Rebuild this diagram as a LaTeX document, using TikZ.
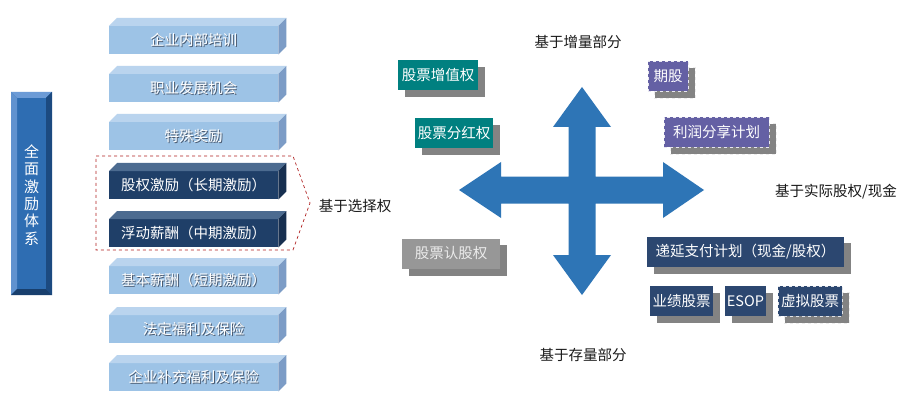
\documentclass[tikz,border=0pt]{standalone}
\usepackage{fontspec}
\newfontfamily\cjk{Noto Sans CJK SC}
\usetikzlibrary{backgrounds}
\definecolor{lightfrontc}{HTML}{9DC3E6}
\definecolor{lighttopc}{HTML}{BAD4EE}
\definecolor{lightsidec}{HTML}{7C9CC6}
\definecolor{darkfrontc}{HTML}{1F3F68}
\definecolor{darktopc}{HTML}{4C6B90}
\definecolor{darksidec}{HTML}{172F50}
\definecolor{barfront}{HTML}{2E6DB2}
\definecolor{barlight}{HTML}{6C9BD6}
\definecolor{bardark}{HTML}{1C4A80}
\definecolor{crossblue}{HTML}{2E75B6}
\definecolor{tealc}{HTML}{008080}
\definecolor{purplec}{HTML}{6460A4}
\definecolor{navyc}{HTML}{2C4770}
\definecolor{grayc}{HTML}{979797}
\definecolor{shadowc}{HTML}{838383}
\definecolor{txtsh}{HTML}{4A5A70}
\definecolor{bracketred}{HTML}{B02020}
\newcommand\shtext[1]{\rlap{\kern0.9pt\raisebox{-0.9pt}{\color{txtsh}#1}}#1}
\newcommand\cubebox[4]{%
  \node[#3front] (#1) at (109,#2) {#4};
  \fill[#3top] (#1.north west) -- ++(8,-8) -- ([shift={(8,-8)}]#1.north east) -- (#1.north east) -- cycle;
  \fill[#3side] (#1.north east) -- ++(8,-8) -- ([shift={(8,-8)}]#1.south east) -- (#1.south east) -- cycle;
}
\newcommand\tagbox[6]{% name, x-centre, y-centre, width, style, text
  \node[#5, minimum width=#4pt] (#1) at (#2,#3) {#6};
  \begin{scope}[on background layer]
    \path[#5shadow] ([shift={(7,7)}]#1.north west) rectangle ([shift={(7,7)}]#1.south east);
  \end{scope}
}
\tikzset{
  cjkfont/.style={font=\cjk\fontsize{14.5}{17}\selectfont},
  cubebase/.style={cjkfont, draw=none, text=white, minimum width=169pt, minimum height=28pt, inner sep=0pt, anchor=north west},
  lightfront/.style={cubebase, fill=lightfrontc},
  lighttop/.style={fill=lighttopc},
  lightside/.style={fill=lightsidec},
  darkfront/.style={cubebase, fill=darkfrontc},
  darktop/.style={fill=darktopc},
  darkside/.style={fill=darksidec},
  tagbase/.style={cjkfont, text=white, minimum height=30pt, inner sep=0pt},
  teal/.style={tagbase, fill=tealc},
  tealshadow/.style={fill=shadowc},
  purp/.style={tagbase, fill=purplec, draw=white!85!purplec, dashed, line width=0.8pt},
  purpshadow/.style={fill=shadowc, draw=white!85!shadowc, dashed, line width=0.8pt},
  navy/.style={tagbase, fill=navyc},
  navyshadow/.style={fill=shadowc},
  navyd/.style={tagbase, fill=navyc, draw=white!85!navyc, dashed, line width=0.8pt},
  navydshadow/.style={fill=shadowc, draw=white!85!shadowc, dashed, line width=0.8pt},
  grey/.style={tagbase, fill=grayc, text=white!92!black},
  greyshadow/.style={fill=shadowc},
  plainlabel/.style={cjkfont, text=black!90, inner sep=0pt},
}
\begin{document}
\begin{tikzpicture}[x=1pt,y=-1pt]
\begin{scope}[on background layer]
\fill[white] (0,0) rectangle (913,401);
\end{scope}
\useasboundingbox (0,0) rectangle (913,401);

% left bevelled bar
\node[fill=barfront, minimum width=41pt, minimum height=203pt, inner sep=0pt] (bar) at (31.5,193.5) {};
\fill[barlight] (11,92) -- (52,92) -- (46,98) -- (17,98) -- cycle;
\fill[barlight!80!barfront] (11,92) -- (17,98) -- (17,289) -- (11,295) -- cycle;
\fill[bardark] (52,92) -- (52,295) -- (46,289) -- (46,98) -- cycle;
\fill[bardark!85!black] (11,295) -- (52,295) -- (46,289) -- (17,289) -- cycle;
\node[font=\cjk\fontsize{15}{17.3}\selectfont, text=white, align=center, inner sep=0pt] (bartext) at (31.5,195) {全\\面\\激\\励\\体\\系};

% stacked 3D boxes
\cubebox{c1}{26}{light}{\shtext{企业内部培训}}
\cubebox{c2}{74}{light}{\shtext{职业发展机会}}
\cubebox{c3}{122}{light}{\shtext{特殊奖励}}
\cubebox{c4}{171}{dark}{股权激励（长期激励）}
\cubebox{c5}{219}{dark}{浮动薪酬（中期激励）}
\cubebox{c6}{266}{light}{\shtext{基本薪酬（短期激励）}}
\cubebox{c7}{315}{light}{\shtext{法定福利及保险}}
\cubebox{c8}{363}{light}{\shtext{企业补充福利及保险}}

% dashed bracket
\draw[bracketred, dashed, line width=0.7pt] (96,156) -- (293,156) -- (310,203) -- (293,250) -- (96,250) -- cycle;
\node[plainlabel] (opt) at (355,206) {基于选择权};

% cross arrow
\fill[crossblue] (582,87) -- (611,127) -- (595.5,127) -- (595.5,176.5) -- (663,176.5) -- (663,162) -- (704,190) -- (663,218) -- (663,203.5) -- (595.5,203.5) -- (595.5,255) -- (611,255) -- (582,295) -- (553,255) -- (568.5,255) -- (568.5,203.5) -- (501,203.5) -- (501,218) -- (459,190) -- (501,162) -- (501,176.5) -- (568.5,176.5) -- (568.5,127) -- (553,127) -- cycle;

% axis labels
\node[plainlabel] (inc) at (578,42) {基于增量部分};
\node[plainlabel] (stock) at (583,355) {基于存量部分};
\node[plainlabel] (real) at (836,192) {基于实际股权/现金};

% tag boxes
\tagbox{t1}{438}{75}{80}{teal}{股票增值权}
\tagbox{t2}{454}{133}{78}{teal}{股票分红权}
\tagbox{t3}{451}{253.5}{98}{grey}{股票认股权}
\tagbox{t4}{668}{76}{40}{purp}{期股}
\tagbox{t5}{716.5}{132}{105}{purp}{利润分享计划}
\tagbox{t6}{745.5}{251.5}{197}{navy}{递延支付计划（现金/股权）}
\tagbox{t7}{681.5}{301}{63}{navy}{业绩股票}
\tagbox{t8}{745.5}{301}{41}{navy}{ESOP}
\tagbox{t9}{810}{301}{64}{navyd}{虚拟股票}
\end{tikzpicture}
\end{document}
